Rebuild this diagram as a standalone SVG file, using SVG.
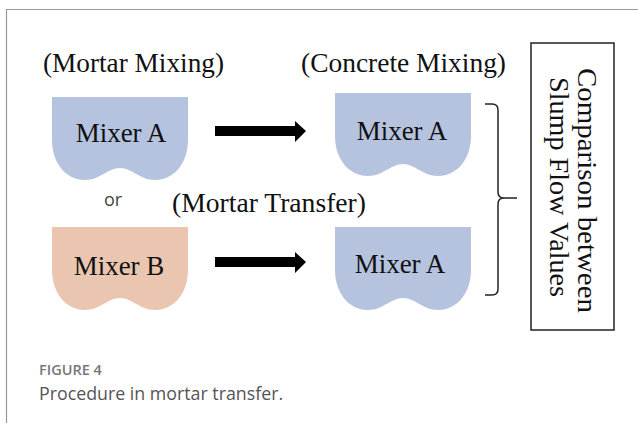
<svg xmlns="http://www.w3.org/2000/svg" width="638" height="423" viewBox="0 0 638 423">
  <defs>
    <style>
      .frame { fill: none; stroke: #9a9a9a; stroke-width: 1.2; }
      .label { font-family: "Liberation Serif", "Times New Roman", serif; font-size: 27px; fill: #111; }
      .mixer-a { fill: #b5c3df; }
      .mixer-b { fill: #eac6b1; }
      .arrow { fill: #000; }
      .line { fill: none; stroke: #222; stroke-width: 1.5; }
      .or { font-family: "Open Sans", "Liberation Sans", sans-serif; font-size: 18px; fill: #444; }
      .cap-title { font-family: "Open Sans", "Liberation Sans", sans-serif; font-size: 14.5px; font-weight: 600; fill: #777; }
      .cap-text { font-family: "Open Sans", "Liberation Sans", sans-serif; font-size: 17.8px; fill: #555; }
    </style>
    <!-- mixer bowl: flat top, straight sides, two rounded lobes at the bottom -->
    <path id="bowl" d="M0,0 H136 V43 C136,66 122,83 103,83 C88,83 80,71 68,71 C56,71 48,83 33,83 C14,83 0,66 0,43 Z"/>
  </defs>

  <rect width="638" height="423" fill="#fff"/>
  <path class="frame" d="M6.5,423 V9.5 H638"/>

  <!-- stage headings -->
  <text class="label" x="43" y="72" textLength="181" lengthAdjust="spacingAndGlyphs">(Mortar Mixing)</text>
  <text class="label" x="301" y="72" textLength="205" lengthAdjust="spacingAndGlyphs">(Concrete Mixing)</text>
  <text class="label" x="172" y="212" textLength="194" lengthAdjust="spacingAndGlyphs">(Mortar Transfer)</text>
  <text class="or" x="104" y="206">or</text>

  <g id="mixer-a-mortar">
    <use href="#bowl" class="mixer-a" transform="translate(52,97)"/>
    <text class="label" x="121" y="142" text-anchor="middle">Mixer A</text>
  </g>
  <g id="mixer-b-mortar">
    <use href="#bowl" class="mixer-b" transform="translate(52,227)"/>
    <text class="label" x="119" y="275" text-anchor="middle">Mixer B</text>
  </g>
  <g id="mixer-a-concrete">
    <use href="#bowl" class="mixer-a" transform="translate(335,93)"/>
    <text class="label" x="402" y="140" text-anchor="middle">Mixer A</text>
  </g>
  <g id="mixer-a-transfer">
    <use href="#bowl" class="mixer-a" transform="translate(335,227)"/>
    <text class="label" x="400" y="273" text-anchor="middle">Mixer A</text>
  </g>

  <g id="comparison">
    <rect x="531" y="43" width="83" height="287" fill="none" stroke="#222" stroke-width="1.5"/>
    <text class="label" transform="translate(578,190.5) rotate(90)" text-anchor="middle" textLength="245" lengthAdjust="spacingAndGlyphs">Comparison between</text>
    <text class="label" transform="translate(550,187) rotate(90)" text-anchor="middle" textLength="220" lengthAdjust="spacingAndGlyphs">Slump Flow Values</text>
  </g>

  <g id="connectors">
    <polygon class="arrow" points="215,126 295,126 295,121 306,131 295,142 295,136 215,136"/>
    <polygon class="arrow" points="215,257 295,257 295,252 306,262 295,273 295,267 215,267"/>
    <!-- brace gathering both concrete mixes -->
    <path class="line" d="M485,104 H492 Q498,104 498,110 V192 Q498,198 504,198 H517 M504,198 Q498,198 498,204 V289 Q498,295 492,295 H485"/>
  </g>

  <text class="cap-title" x="39" y="375">FIGURE 4</text>
  <text class="cap-text" x="39" y="400">Procedure in mortar transfer.</text>
</svg>
